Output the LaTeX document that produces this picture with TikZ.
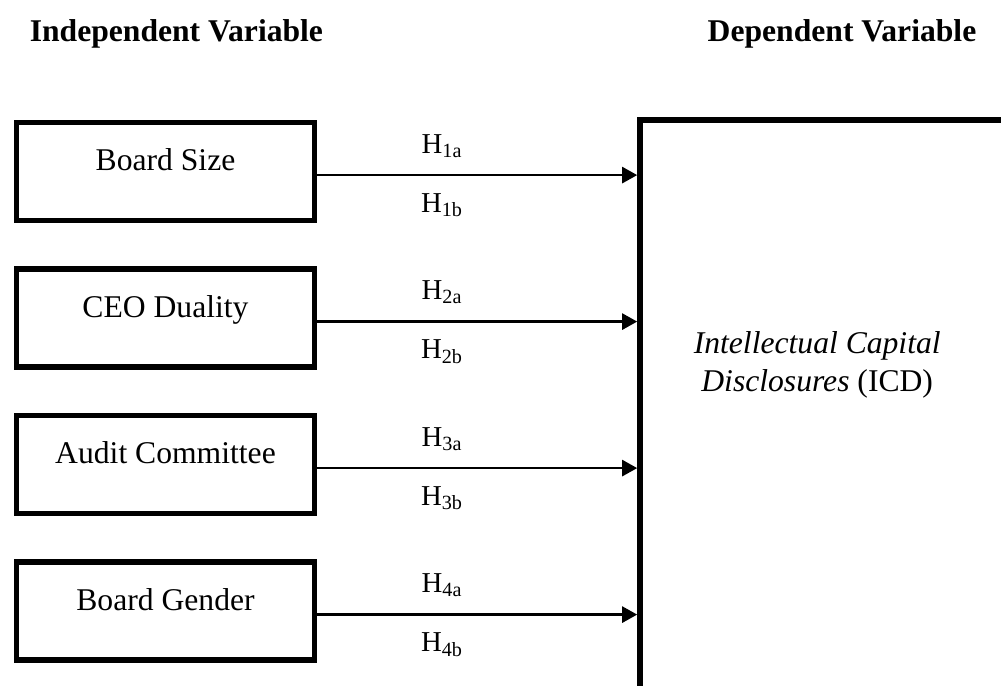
\documentclass[tikz,border=0pt]{standalone}
\usepackage{fontspec}
\setmainfont{Liberation Serif}
\usetikzlibrary{arrows.meta,positioning}
\tikzset{
  ivbox/.style={draw, line width=3.6pt, minimum width=7.45cm, minimum height=2.45cm,
    text height=0.3cm, text depth=0.34cm, font=\fontsize{22.5}{27}\selectfont},
  dvbox/.style={draw, line width=3.9pt, minimum width=12cm, minimum height=16cm, anchor=north west},
  hyparrow/.style={line width=1.8pt, -{Triangle[length=0.375cm,width=0.4cm]}},
  hyp/.style={font=\fontsize{20.5}{24}\selectfont, anchor=base, pos=0.39},
  vartitle/.style={font=\fontsize{22.5}{27}\selectfont\bfseries, anchor=base},
}
\begin{document}
\begin{tikzpicture}
  \useasboundingbox (0,0) rectangle (25.025,17.15);
  \clip (0,0) rectangle (25.025,17.15);
  % Column titles
  \node[vartitle] (ivtitle) at (4.41,16.12) {Independent Variable};
  \node[vartitle] (dvtitle) at (21.05,16.12) {Dependent Variable};
  % Dependent variable (box runs off the page)
  \node[dvbox] (icd) at (15.93,14.22) {};
  \node[align=center, font=\fontsize{22.5}{27}\selectfont] (icdtext) at (20.43,8.03)
    {\textit{Intellectual Capital}\\\textit{Disclosures} (ICD)};
  % Independent variables with hypotheses
  \foreach \name/\txt/\i in {bs/Board Size/1, ceo/CEO Duality/2,
                             ac/Audit Committee/3, bg/Board Gender/4}{
    \node[ivbox] (\name) at (4.1375,{12.8625-(\i-1)*3.6625}) {\txt};
    \draw[hyparrow] ([yshift=-0.09cm]\name.east) -- ([yshift=-0.09cm]\name.east -| icd.west)
      node[hyp, yshift=0.55cm] (ha\i) {H\textsubscript{\i a}}
      node[hyp, yshift=-0.93cm] (hb\i) {H\textsubscript{\i b}};
  }
\end{tikzpicture}
\end{document}
